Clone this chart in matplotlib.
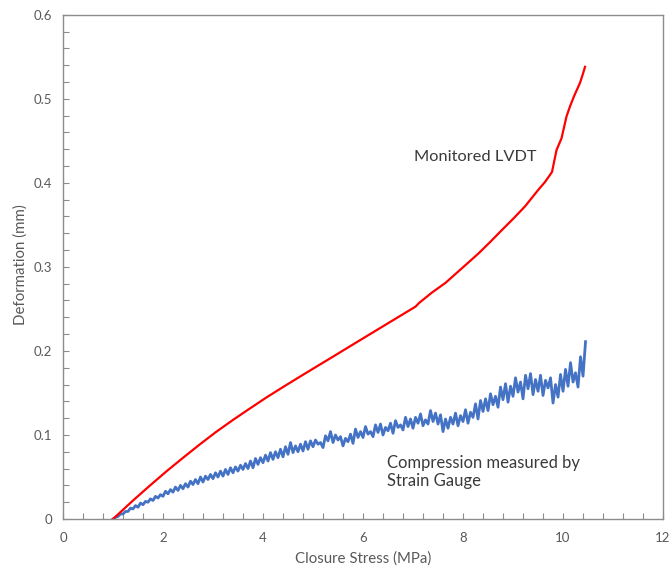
import numpy as np
import matplotlib
matplotlib.use("Agg")
import matplotlib.pyplot as plt
from matplotlib.ticker import MultipleLocator, FuncFormatter

plt.rcParams['font.family'] = ['Lato', 'DejaVu Sans']

# Monitored LVDT (red)
lvdt_stress = [1.0, 1.2, 1.4, 1.7, 2.07, 2.4, 2.73, 3.05, 3.39, 3.7, 4.06, 4.4, 4.72,
               5.06, 5.4, 5.72, 6.05, 6.38, 6.58, 6.8, 7.05, 7.12, 7.38, 7.65, 8.0,
               8.31, 8.55, 8.78, 9.0, 9.24, 9.51, 9.64, 9.74, 9.78, 9.87, 9.97, 10.07,
               10.14, 10.22, 10.34, 10.40, 10.44]
lvdt_def = [0.0, 0.011, 0.022, 0.0378, 0.0568, 0.0728, 0.0885, 0.1031, 0.1175, 0.130, 0.1443,
            0.157, 0.1687, 0.181, 0.1932, 0.2048, 0.2167, 0.2286, 0.2358, 0.2437, 0.2527, 0.257,
            0.2695, 0.281, 0.2995, 0.316, 0.330, 0.344, 0.357, 0.372, 0.392, 0.401, 0.4095,
            0.413, 0.439, 0.453, 0.479, 0.491, 0.503, 0.519, 0.530, 0.538]

# strain gauge compression (blue), sampled every 0.05 MPa from 1.0 to 10.45
gauge_start, gauge_end = 1.0, 10.45
gauge_def = [
    0.000, 0.002, 0.003, 0.006, 0.006, 0.009, 0.009, 0.013, 0.012, 0.016,
    0.014, 0.019, 0.017, 0.021, 0.020, 0.024, 0.022, 0.027, 0.025, 0.029,
    0.027, 0.033, 0.030, 0.035, 0.032, 0.038, 0.034, 0.040, 0.036, 0.042,
    0.038, 0.045, 0.041, 0.047, 0.042, 0.050, 0.044, 0.051, 0.047, 0.053,
    0.048, 0.055, 0.050, 0.057, 0.051, 0.059, 0.053, 0.061, 0.055, 0.062,
    0.057, 0.064, 0.059, 0.066, 0.060, 0.069, 0.061, 0.072, 0.065, 0.073,
    0.067, 0.076, 0.069, 0.079, 0.071, 0.080, 0.073, 0.083, 0.074, 0.086,
    0.077, 0.091, 0.079, 0.087, 0.080, 0.089, 0.081, 0.092, 0.083, 0.093,
    0.086, 0.094, 0.089, 0.091, 0.085, 0.099, 0.093, 0.104, 0.091, 0.100,
    0.094, 0.098, 0.087, 0.096, 0.092, 0.101, 0.090, 0.107, 0.097, 0.104,
    0.097, 0.110, 0.101, 0.104, 0.098, 0.112, 0.103, 0.113, 0.100, 0.109,
    0.105, 0.114, 0.102, 0.117, 0.109, 0.112, 0.106, 0.121, 0.110, 0.119,
    0.108, 0.121, 0.114, 0.125, 0.111, 0.118, 0.113, 0.129, 0.116, 0.126,
    0.113, 0.124, 0.104, 0.119, 0.108, 0.121, 0.113, 0.126, 0.111, 0.123,
    0.116, 0.130, 0.114, 0.127, 0.121, 0.137, 0.119, 0.141, 0.128, 0.143,
    0.129, 0.149, 0.136, 0.146, 0.133, 0.157, 0.142, 0.161, 0.139, 0.158,
    0.146, 0.168, 0.151, 0.163, 0.143, 0.171, 0.155, 0.173, 0.148, 0.166,
    0.152, 0.171, 0.147, 0.165, 0.156, 0.168, 0.138, 0.160, 0.145, 0.172,
    0.152, 0.178, 0.158, 0.186, 0.163, 0.174, 0.157, 0.193, 0.170, 0.211,
]
gauge_stress = np.linspace(gauge_start, gauge_end, len(gauge_def))

x_ticks = [0, 2, 4, 6, 8, 10, 12]
y_ticks = [0, 0.1, 0.2, 0.3, 0.4, 0.5, 0.6]

fig = plt.figure(figsize=(6.7, 5.66), dpi=100)
ax = fig.add_axes([0.094, 0.083, 0.8956, 0.891])

ax.plot(gauge_stress, gauge_def, color='#4472C4', lw=2.0)
ax.plot(lvdt_stress, lvdt_def, color='#FF0000', lw=1.6)

ax.set_xlim(0, 12)
ax.set_ylim(0, 0.6)
ax.set_xticks(x_ticks)
ax.set_yticks(y_ticks)
ax.xaxis.set_minor_locator(MultipleLocator(0.4))
ax.yaxis.set_minor_locator(MultipleLocator(0.02))
ax.yaxis.set_major_formatter(FuncFormatter(lambda v, p: '{:g}'.format(round(v, 2))))

grey = '#595959'
for s in ax.spines.values():
    s.set_color('#8c8c8c')
    s.set_linewidth(1.0)
ax.tick_params(which='both', direction='in', color='#8c8c8c', labelcolor=grey,
               labelsize=9.5, length=4, width=0.8)
ax.tick_params(axis='x', pad=9)
ax.tick_params(axis='y', pad=8)

ax.set_xlabel('Closure Stress (MPa)', fontsize=10.8, color=grey)
ax.set_ylabel('Deformation (mm)', fontsize=10.8, color=grey)
ax.xaxis.set_label_coords(0.5, -0.064)
ax.yaxis.set_label_coords(-0.058, 0.504)

ax.text(7.02, 0.431, 'Monitored LVDT', fontsize=11.8, color='#3a3a3a', va='center')
ax.text(6.48, 0.056, 'Compression measured by\nStrain Gauge', fontsize=12,
        color='#3a3a3a', va='center', linespacing=1.2)

fig.savefig('out.png', dpi=100)
